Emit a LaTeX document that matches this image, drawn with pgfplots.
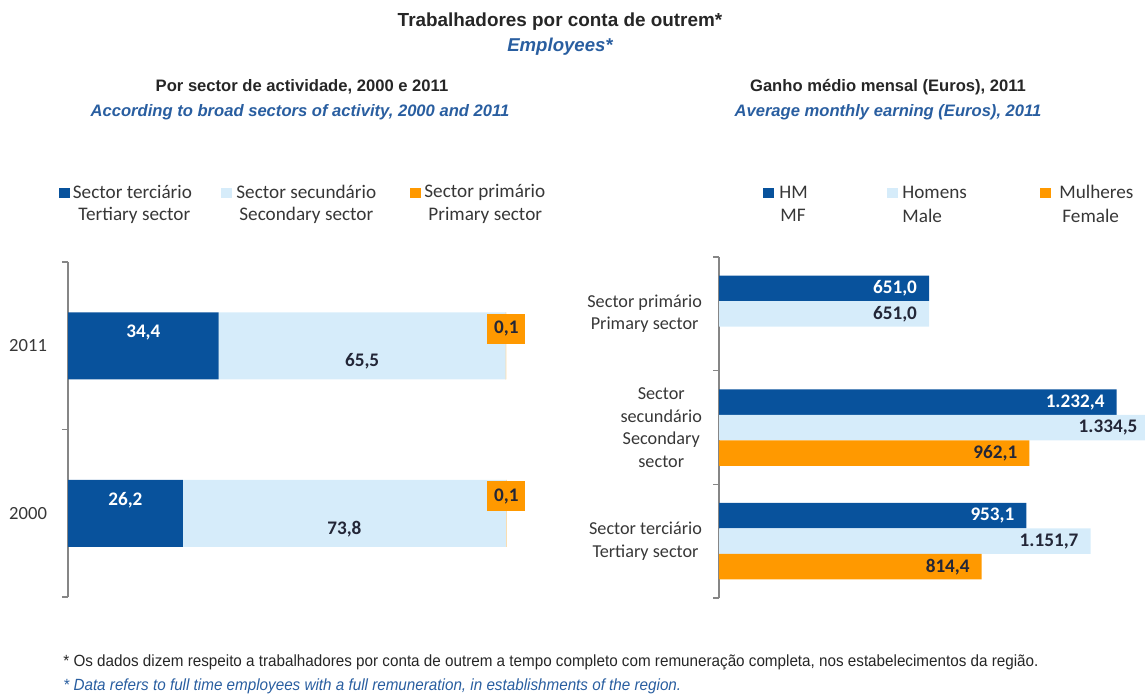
\documentclass[border=0pt]{standalone}
\usepackage{fontspec}
\setmainfont{Carlito}
\newfontfamily\arial{Liberation Sans}
\newfontfamily\arialn[FakeStretch=0.94]{Liberation Sans}
\usepackage{pgfplots}
\pgfplotsset{compat=1.18}

\definecolor{dblue}{RGB}{8,82,156}
\definecolor{lblue}{RGB}{214,236,250}
\definecolor{orng}{RGB}{255,153,0}
\definecolor{tblue}{RGB}{41,94,160}
\definecolor{axgray}{RGB}{134,134,134}
\definecolor{txt}{RGB}{55,55,55}
\definecolor{lbl}{RGB}{35,38,55}

\newcommand\fs[2]{\fontsize{#1pt}{#2pt}\selectfont}

% share of employees by sector (%)
\pgfplotstableread{
y   ter  sec  pri
0   26.2 73.8 0.1
1   34.4 65.5 0.1
}\sectors

\begin{document}
\begin{tikzpicture}
\path[use as bounding box] (0,0) rectangle (572.5pt,-346.5pt);

% ---- left panel: stacked bars
\begin{axis}[
  at={(34pt,-298.5pt)}, anchor=south west, scale only axis,
  width=219pt, height=167.5pt,
  xbar stacked, bar width=33.5pt,
  xmin=0, xmax=100, ymin=-0.5, ymax=1.5,
  axis x line=none, axis y line*=left,
  axis line style={draw=axgray, line width=0.7pt},
  ytick={0,1}, yticklabels={2000,2011},
  minor ytick={-0.5,0.5,1.5},
  major tick length=0pt, minor tick length=3pt, tick align=outside,
  tick style={draw=axgray, line width=0.7pt},
  yticklabel style={font=\fs{9.3}{11}, text=txt, xshift=-7pt},
  clip=false]
\addplot[fill=dblue, draw=none] table[x=ter, y=y]{\sectors};
\addplot[fill=lblue, draw=none] table[x=sec, y=y]{\sectors};
\addplot[fill=orng, draw=none] table[x=pri, y=y]{\sectors};
\end{axis}

% labels of the stacked bars
\begin{axis}[
  at={(34pt,-298.5pt)}, anchor=south west, scale only axis,
  width=219pt, height=167.5pt,
  xmin=0, xmax=100, ymin=-0.5, ymax=1.5, hide axis, clip=false,
  nodes near coords, point meta=explicit symbolic,
  every node near coord/.append style={anchor=center, font=\bfseries\fs{9.6}{11}}]
\addplot[draw=none, mark=none, every node near coord/.append style={text=white, yshift=6.75pt}]
  coordinates {(17.2,1) [34,4] (13.1,0) [26,2]};
\addplot[draw=none, mark=none, every node near coord/.append style={text=lbl, yshift=-7.75pt}]
  coordinates {(67.15,1) [65,5] (63.1,0) [73,8]};
\addplot[draw=none, mark=none, every node near coord/.append style={text=lbl, fill=orng, minimum width=19pt, minimum height=15pt, inner sep=1pt, yshift=8.5pt}]
  coordinates {(100.1,1) [0,1] (100.1,0) [0,1]};
\end{axis}

% ---- right panel: grouped bars
\begin{axis}[
  at={(359.5pt,-299pt)}, anchor=south west, scale only axis,
  width=225.8pt, height=170.5pt,
  xbar, bar width=12.75pt,
  xmin=0, xmax=1400, ymin=-0.5, ymax=2.5,
  axis x line=none, axis y line*=left,
  axis line style={draw=axgray, line width=0.7pt},
  ytick={0,1,2},
  yticklabels={{Sector terciário\\Tertiary sector},{Sector\\secundário\\Secondary\\sector},{Sector primário\\Primary sector}},
  yticklabel style={align=center, font=\fs{9.1}{11.25}, text=txt, xshift=-5pt},
  minor ytick={-0.5,0.5,1.5,2.5},
  major tick length=0pt, minor tick length=3pt, tick align=outside,
  tick style={draw=axgray, line width=0.7pt},
  point meta=x,
  nodes near coords={\pgfmathprintnumber[fixed,fixed zerofill,precision=1,use comma,1000 sep={.},assume math mode=true]{\pgfplotspointmeta}},
  every node near coord/.append style={anchor=east, xshift=-2.5pt, font=\bfseries\fs{9.6}{11}},
  clip=false]
\addplot[fill=dblue, draw=none, bar shift=12.75pt, every node near coord/.append style={text=white}]
  coordinates {(953.1,0) (1232.4,1) (651.0,2)};
\addplot[fill=lblue, draw=none, bar shift=0pt, every node near coord/.append style={text=lbl}]
  coordinates {(1151.7,0) (1334.5,1) (651.0,2)};
\addplot[fill=orng, draw=none, bar shift=-12.75pt, every node near coord/.append style={text=lbl}]
  coordinates {(814.4,0) (962.1,1)};
\end{axis}

% ---- titles, legends, notes (pixel grid of the reference)
\begin{scope}[x=0.5pt, y=-0.5pt]
\node[font=\arial\bfseries\fs{9.45}{11}, text=black!85] at (560,22) {Trabalhadores por conta de outrem*};
\node[font=\arial\bfseries\itshape\fs{9.3}{11}, text=tblue] at (560,47) {Employees*};
\node[font=\arial\bfseries\fs{8.3}{10}, text=black!85] at (302,87) {Por sector de actividade, 2000 e 2011};
\node[font=\arial\bfseries\itshape\fs{8.3}{10}, text=tblue] at (300,112) {According to broad sectors of activity, 2000 and 2011};
\node[font=\arial\bfseries\fs{8.3}{10}, text=black!85] at (888,87) {Ganho médio mensal (Euros), 2011};
\node[font=\arial\bfseries\itshape\fs{8.3}{10}, text=tblue] at (888,112) {Average monthly earning (Euros), 2011};

\begin{scope}[every node/.style={anchor=west, inner sep=0pt, font=\fs{9.6}{11}, text=txt}]
\fill[dblue] (59,187.7) rectangle (69.5,198.3);
\node at (72.5,192) {Sector terciário};
\node at (78,215.7) {Tertiary sector};
\fill[lblue] (221,187.7) rectangle (232,198.3);
\node at (236,192) {Sector secundário};
\node at (239,215.7) {Secondary sector};
\fill[orng] (410,187.7) rectangle (421,198.3);
\node at (424,192) {Sector primário};
\node at (428,215.7) {Primary sector};

\fill[dblue] (763,187.7) rectangle (774,198.3);
\node at (779,192) {HM};
\node at (780,215.7) {MF};
\fill[lblue] (887,187.7) rectangle (898,198.3);
\node at (902,192) {Homens};
\node at (902,215.7) {Male};
\fill[orng] (1040,187.7) rectangle (1051,198.3);
\node at (1059,192) {Mulheres};
\node at (1062,215.7) {Female};
\end{scope}

\node[anchor=west, inner sep=0pt, font=\arialn\fs{8.1}{9}, text=black!85] at (63,662)
  {* Os dados dizem respeito a trabalhadores por conta de outrem a tempo completo com remuneração completa, nos estabelecimentos da região.};
\node[anchor=west, inner sep=0pt, font=\arialn\itshape\fs{8.1}{9}, text=tblue] at (63,686)
  {* Data refers to full time employees with a full remuneration, in establishments of the region.};
\end{scope}
\end{tikzpicture}
\end{document}
